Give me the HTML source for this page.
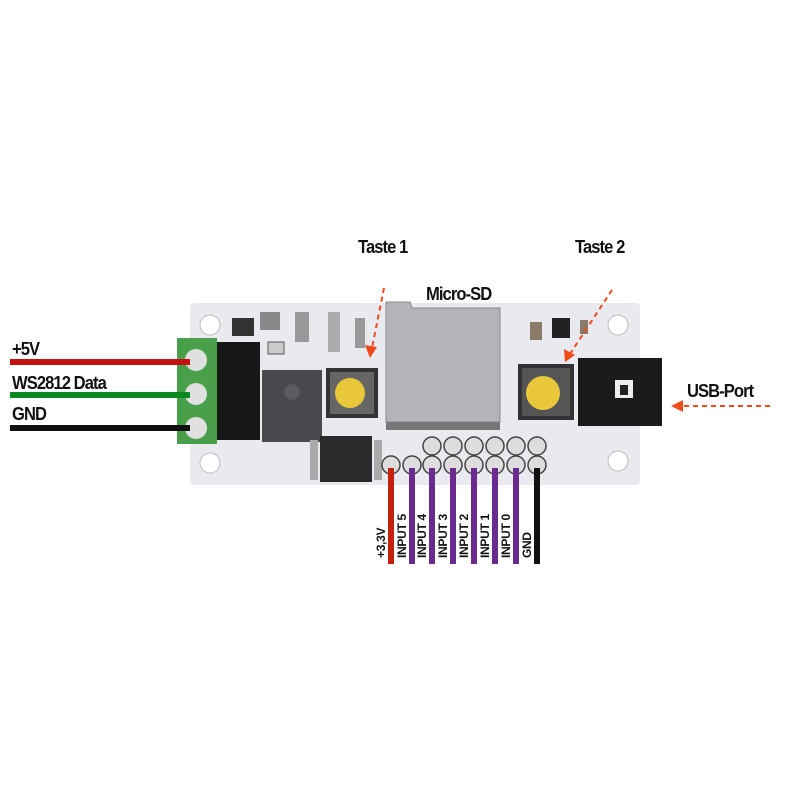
<!DOCTYPE html>
<html><head><style>
body{margin:0;width:800px;height:800px;background:#fff;position:relative;overflow:hidden;font-family:"Liberation Sans",sans-serif}
div{position:absolute}
.t{font-weight:bold;font-size:18px;color:#111;letter-spacing:-1px;transform:scaleX(0.92);transform-origin:left top;white-space:nowrap}
.r{transform:rotate(-90deg);transform-origin:left top;font-size:12px;font-weight:bold;white-space:nowrap;color:#111;letter-spacing:-0.3px}
</style></head><body>
<svg width="800" height="800" style="position:absolute;left:0;top:0">
<rect x="190" y="303" width="450" height="182" rx="4" fill="#e8eaf0"/>
<circle cx="210" cy="325" r="10" fill="#fff" stroke="#bbb"/>
<circle cx="210" cy="463" r="10" fill="#fff" stroke="#bbb"/>
<circle cx="618" cy="325" r="10" fill="#fff" stroke="#bbb"/>
<circle cx="618" cy="461" r="10" fill="#fff" stroke="#bbb"/>
<rect x="232" y="318" width="22" height="18" fill="#333"/>
<rect x="260" y="312" width="20" height="18" fill="#888"/>
<rect x="295" y="312" width="14" height="30" fill="#999"/>
<rect x="268" y="342" width="16" height="12" fill="#ccc" stroke="#555"/>
<rect x="328" y="312" width="12" height="40" fill="#aaa"/>
<rect x="355" y="318" width="10" height="30" fill="#999"/>
<rect x="530" y="322" width="12" height="18" fill="#8a7a6a"/>
<rect x="552" y="318" width="18" height="20" fill="#222"/>
<rect x="580" y="320" width="8" height="14" fill="#8a7a6a"/>
<rect x="262" y="370" width="60" height="72" fill="#4a4a4e"/>
<circle cx="292" cy="392" r="8" fill="#5c5c60"/>
<rect x="320" y="436" width="52" height="46" fill="#2a2a2a"/>
<rect x="310" y="440" width="8" height="40" fill="#aaa"/>
<rect x="374" y="440" width="8" height="40" fill="#aaa"/>
<rect x="326" y="368" width="52" height="50" fill="#333"/>
<rect x="330" y="372" width="44" height="42" fill="#666"/>
<circle cx="350" cy="393" r="15" fill="#e8c83a"/>
<polygon points="386,302 410,302 412,308 500,308 500,422 386,422" fill="#b4b4b8" stroke="#888"/>
<rect x="386" y="422" width="114" height="8" fill="#777"/>
<rect x="518" y="364" width="56" height="56" fill="#333"/>
<rect x="522" y="368" width="48" height="48" fill="#555"/>
<circle cx="543" cy="393" r="17" fill="#e8c83a"/>
<rect x="578" y="358" width="84" height="68" fill="#1a1a1a"/>
<rect x="615" y="380" width="18" height="18" fill="#eee"/>
<rect x="620" y="385" width="8" height="10" fill="#222"/>
<g fill="#ddd" stroke="#444" stroke-width="1.5">
<circle cx="432" cy="446" r="9"/><circle cx="453" cy="446" r="9"/><circle cx="474" cy="446" r="9"/><circle cx="495" cy="446" r="9"/><circle cx="516" cy="446" r="9"/><circle cx="537" cy="446" r="9"/>
<circle cx="391" cy="465" r="9"/><circle cx="412" cy="465" r="9"/><circle cx="432" cy="465" r="9"/><circle cx="453" cy="465" r="9"/><circle cx="474" cy="465" r="9"/><circle cx="495" cy="465" r="9"/><circle cx="516" cy="465" r="9"/><circle cx="537" cy="465" r="9"/>
</g>
<rect x="215" y="342" width="45" height="98" fill="#181818"/>
<rect x="177" y="338" width="40" height="106" fill="#4aa04a"/>
<circle cx="196" cy="360" r="11" fill="#e0e0e0"/><circle cx="196" cy="394" r="11" fill="#e0e0e0"/><circle cx="196" cy="428" r="11" fill="#e0e0e0"/>
<rect x="10" y="359" width="180" height="6" fill="#c41010"/>
<rect x="10" y="392" width="180" height="6" fill="#0a8a1e"/>
<rect x="10" y="425" width="180" height="6" fill="#111"/>
<rect x="388" y="468" width="6" height="96" fill="#c42010"/>
<g fill="#6b2a90">
<rect x="409" y="468" width="6" height="96"/><rect x="429" y="468" width="6" height="96"/><rect x="450" y="468" width="6" height="96"/><rect x="471" y="468" width="6" height="96"/><rect x="492" y="468" width="6" height="96"/><rect x="513" y="468" width="6" height="96"/>
</g>
<rect x="534" y="468" width="6" height="96" fill="#111"/>
<g stroke="#f04a1a" stroke-width="2" stroke-dasharray="5,4" fill="none">
<line x1="384" y1="288" x2="372" y2="348"/>
<line x1="612" y1="290" x2="570" y2="354"/>
<line x1="770" y1="406" x2="680" y2="406"/>
</g>
<g fill="#f04a1a">
<polygon points="370,358 365,345 377,347"/>
<polygon points="565,362 564,349 575,355"/>
<polygon points="671,406 683,400 683,412"/>
</g>
</svg>
<div class="t" style="left:358px;top:237px">Taste 1</div>
<div class="t" style="left:575px;top:237px">Taste 2</div>
<div class="t" style="left:426px;top:284px">Micro-SD</div>
<div class="t" style="left:687px;top:381px">USB-Port</div>
<div class="t" style="left:12px;top:339px">+5V</div>
<div class="t" style="left:12px;top:373px">WS2812 Data</div>
<div class="t" style="left:12px;top:404px">GND</div>
<div class="r" style="left:374px;top:558px">+3,3V</div>
<div class="r" style="left:395px;top:558px">INPUT 5</div>
<div class="r" style="left:415px;top:558px">INPUT 4</div>
<div class="r" style="left:436px;top:558px">INPUT 3</div>
<div class="r" style="left:457px;top:558px">INPUT 2</div>
<div class="r" style="left:478px;top:558px">INPUT 1</div>
<div class="r" style="left:499px;top:558px">INPUT 0</div>
<div class="r" style="left:520px;top:558px">GND</div>
</body></html>
